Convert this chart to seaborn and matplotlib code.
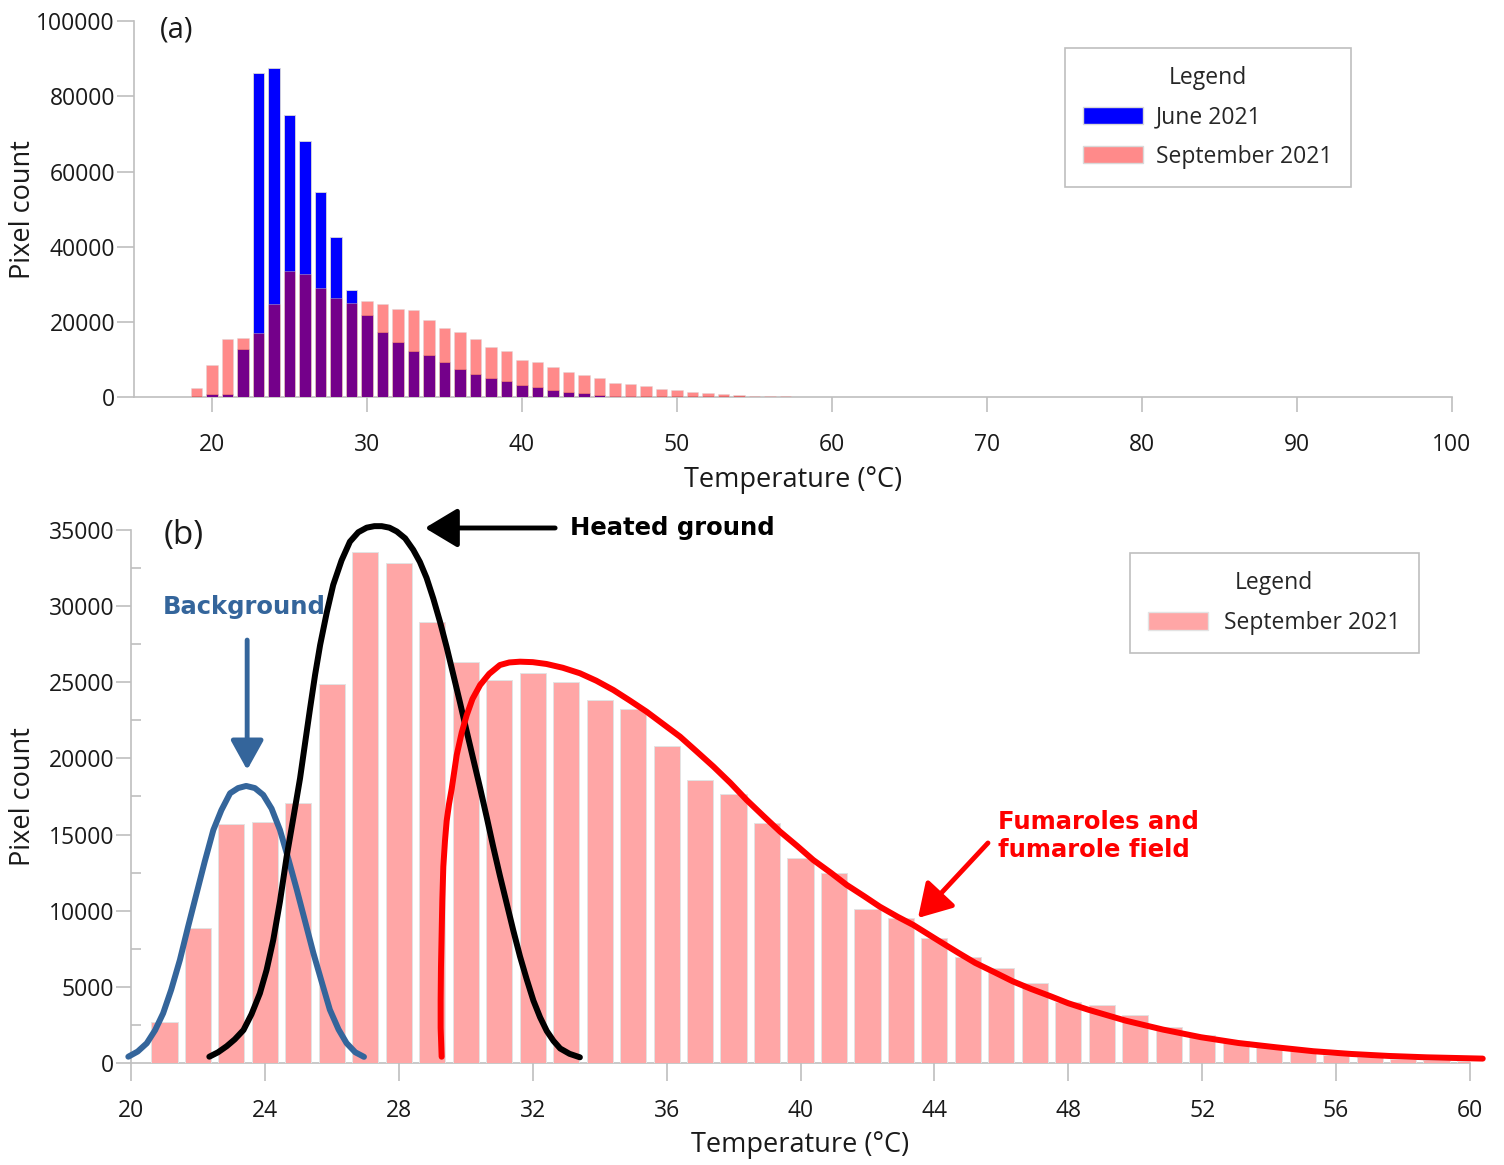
import matplotlib
matplotlib.use("Agg")
import matplotlib.pyplot as plt
import seaborn as sns
from matplotlib.patches import Patch
from matplotlib.ticker import MultipleLocator

# ---- data ----
# panel (a): histogram, one bar per degree
temp_a = list(range(19, 60))
june_a = [0, 800, 800, 13000, 86100, 87500, 75000, 68000, 54700, 42600,
          28600, 22000, 17300, 14700, 12400, 11400, 9300, 7700, 6300, 5100,
          4300, 3400, 2700, 2000, 1500, 1100, 700, 500, 350, 200,
          100, 0, 0, 0, 0, 0, 0, 0, 0, 0, 0]
sep_a = [2500, 8700, 15500, 15700, 17000, 24800, 33600, 32800, 29200, 26300,
         25100, 25500, 24900, 23600, 23200, 20700, 18500, 17500, 15500, 13300,
         12300, 9900, 9500, 8100, 6900, 6000, 5100, 3900, 3700, 3000,
         2200, 1900, 1400, 1100, 900, 600, 500, 450, 300, 200, 100]

# panel (b): September histogram with fitted components
temp_b = list(range(21, 61))
sep_b = [2700, 8850, 15700, 15800, 17070, 24880, 33520, 32820, 28970, 26310,
         25130, 25630, 25040, 23820, 23270, 20840, 18610, 17670, 15780, 13460,
         12500, 10110, 9540, 8230, 6940, 6220, 5280, 4010, 3830, 3150,
         2350, 1820, 1420, 1050, 770, 550, 370, 260, 175, 110]

# background component (blue curve)
bg_t = [19.92, 20.2, 20.47, 20.72, 20.96, 21.2, 21.46, 21.7, 21.96, 22.2,
        22.46, 22.7, 22.96, 23.2, 23.44, 23.7, 23.95, 24.2, 24.45, 24.7,
        24.95, 25.2, 25.45, 25.7, 25.94, 26.2, 26.44, 26.7, 26.96]
bg_v = [410, 750, 1290, 2150, 3260, 4800, 6760, 8900, 11140, 13200,
        15300, 16600, 17710, 18050, 18190, 18050, 17600, 16700, 15300, 13400,
        11400, 9300, 7200, 5300, 3500, 2200, 1300, 700, 400]

# heated ground component (black curve)
heat_t = [22.34, 22.6, 22.86, 23.1, 23.36, 23.6, 23.85, 24.05, 24.25, 24.45,
          24.65, 24.85, 25.05, 25.2, 25.35, 25.5, 25.65, 25.85, 26.04, 26.29,
          26.54, 26.79, 27.04, 27.27, 27.49, 27.72, 27.94, 28.19, 28.43, 28.63,
          28.83, 29.03, 29.23, 29.43, 29.63, 29.83, 30.03, 30.23, 30.43, 30.63,
          30.82, 31.02, 31.22, 31.42, 31.62, 31.82, 32.02, 32.22, 32.42, 32.62,
          32.82, 33.1, 33.41]
heat_v = [410, 700, 1100, 1550, 2160, 3200, 4570, 6100, 8080, 10600,
          13550, 16100, 18690, 21000, 23290, 25500, 27450, 29600, 31390, 33000,
          34230, 34850, 35150, 35250, 35250, 35150, 34900, 34450, 33700, 32900,
          31850, 30500, 28980, 27300, 25480, 23650, 21760, 19900, 18040, 16100,
          14200, 12300, 10500, 8700, 7000, 5500, 4100, 3000, 2100, 1450,
          950, 600, 370]

# fumarole component (red curve)
fum_t = [29.28, 29.25, 29.25, 29.26, 29.28, 29.3, 29.33, 29.38, 29.43, 29.5,
         29.58, 29.73, 29.88, 30.03, 30.2, 30.43, 30.7, 31.02, 31.3, 31.62,
         32.0, 32.41, 32.9, 33.41, 33.9, 34.41, 34.9, 35.4, 35.9, 36.4,
         36.9, 37.4, 37.9, 38.39, 38.9, 39.39, 39.9, 40.38, 40.9, 41.38,
         41.9, 42.37, 42.9, 43.37, 44.17, 44.7, 45.22, 45.8, 46.34, 46.9,
         47.47, 48.0, 48.59, 49.71, 50.83, 51.96, 53.08, 54.2, 55.32, 56.45,
         57.57, 58.7, 60.38]
fum_v = [410, 2300, 4140, 6300, 8510, 10700, 12890, 14600, 15900, 17000,
         18000, 20220, 21700, 22850, 23900, 24820, 25550, 26130, 26300, 26350,
         26320, 26200, 25950, 25590, 25100, 24490, 23800, 23070, 22250, 21430,
         20450, 19460, 18400, 17270, 16200, 15190, 14250, 13330, 12500, 11690,
         10950, 10260, 9600, 9060, 7965, 7250, 6570, 5950, 5360, 4850,
         4380, 3920, 3500, 2780, 2190, 1690, 1310, 1030, 770, 590,
         460, 370, 285]

sns.set_style("ticks")
plt.rcParams['font.family'] = ['Open Sans', 'DejaVu Sans']
FS = 16.5
LAB = 19.5
GRAY = '#BFBFBF'
TXT = '#1a1a1a'
BLUE_LINE = '#34659B'

fig = plt.figure(figsize=(15.04, 11.65), dpi=100)
ax_a = fig.add_axes([0.0894, 0.6588, 0.876, 0.3232])
ax_b = fig.add_axes([0.0871, 0.0876, 0.8903, 0.4575])

# ---- panel (a) ----
sns.barplot(x=temp_a, y=june_a, native_scale=True, color='#0000FF', saturation=1,
            width=0.72, edgecolor='#d9d9d9', linewidth=0.6, errorbar=None,
            ax=ax_a, zorder=3)
sns.barplot(x=temp_a, y=sep_a, native_scale=True, color='#FF0000', saturation=1,
            alpha=0.46, width=0.72, edgecolor='#d9d9d9', linewidth=0.6,
            errorbar=None, ax=ax_a, zorder=3)
ax_a.set_xlim(15, 100)
ax_a.set_ylim(0, 100000)
ax_a.set_xticks(range(20, 101, 10))
ax_a.set_yticks(range(0, 100001, 20000))
ax_a.tick_params(axis='x', length=11, width=1.2, color=GRAY, labelcolor=TXT,
                 labelsize=FS, pad=14.5)
ax_a.tick_params(axis='y', length=12, width=1.2, color=GRAY, labelcolor=TXT,
                 labelsize=FS, pad=2)
ax_a.set_xlabel("Temperature (°C)", fontsize=LAB, color=TXT)
ax_a.set_ylabel("Pixel count", fontsize=LAB, color=TXT)
ax_a.xaxis.set_label_coords(0.5, -0.183)
ax_a.yaxis.set_label_coords(-0.074, 0.5)
ax_a.text(0.019, 0.976, "(a)", transform=ax_a.transAxes, fontsize=21,
          color=TXT, va='center', ha='left')
handles_a = [Patch(facecolor='#0000FF', edgecolor='#d9d9d9'),
             Patch(facecolor='#FF8A8A', edgecolor='#d9d9d9')]
leg = ax_a.legend(handles_a, ["June 2021", "September 2021"], title="Legend",
                  loc='upper left', bbox_to_anchor=(0.706, 0.928),
                  borderaxespad=0, fancybox=False, edgecolor=GRAY, framealpha=1,
                  fontsize=FS, title_fontsize=FS, handlelength=2.6,
                  handleheight=0.8, borderpad=0.8, labelspacing=0.66,
                  handletextpad=0.6)
leg.get_frame().set_linewidth(1.2)

# ---- panel (b) ----
sns.barplot(x=temp_b, y=sep_b, native_scale=True, color='#FFA6A6', saturation=1,
            width=0.78, edgecolor='#e3e3e3', linewidth=0.7, errorbar=None,
            ax=ax_b, zorder=3)
for xs, ys, col in ((bg_t, bg_v, BLUE_LINE), (heat_t, heat_v, 'black'),
                    (fum_t, fum_v, '#FF0000')):
    sns.lineplot(x=xs, y=ys, color=col, lw=4.3, sort=False, estimator=None,
                 ax=ax_b, clip_on=False, zorder=5, solid_joinstyle='round',
                 solid_capstyle='round')
ax_b.set_xlim(20, 60)
ax_b.set_ylim(0, 35000)
ax_b.set_xticks(range(20, 61, 4))
ax_b.yaxis.set_major_locator(MultipleLocator(5000))
ax_b.yaxis.set_minor_locator(MultipleLocator(2500))
ax_b.tick_params(axis='x', length=13, width=1.2, color=GRAY, labelcolor=TXT,
                 labelsize=FS, pad=13)
ax_b.tick_params(axis='y', which='major', length=11, width=1.2, color=GRAY,
                 labelcolor=TXT, labelsize=FS, pad=1)
ax_b.tick_params(axis='y', which='minor', direction='in', length=7, width=1.2,
                 color=GRAY)
ax_b.set_xlabel("Temperature (°C)", fontsize=LAB, color=TXT)
ax_b.set_ylabel("Pixel count", fontsize=LAB, color=TXT)
ax_b.xaxis.set_label_coords(0.5, -0.1285)
ax_b.yaxis.set_label_coords(-0.0702, 0.5)
ax_b.text(0.024, 0.99, "(b)", transform=ax_b.transAxes, fontsize=24,
          color=TXT, va='center', ha='left')

bold = dict(family='DejaVu Sans', fontweight='bold', fontsize=17.5)
ax_b.annotate("", xy=(23.47, 19240), xytext=(23.47, 27770),
              arrowprops=dict(arrowstyle='-|>,head_length=0.45,head_width=0.25',
                              color=BLUE_LINE, lw=3.5, mutation_scale=40,
                              shrinkA=0, shrinkB=0))
ax_b.text(20.96, 29940, "Background", color=BLUE_LINE, ha='left', va='center',
          **bold)
ax_b.annotate("", xy=(28.78, 35130), xytext=(32.67, 35130),
              annotation_clip=False,
              arrowprops=dict(arrowstyle='-|>,head_length=0.5,head_width=0.3',
                              color='black', lw=3.5, mutation_scale=40,
                              shrinkA=0, shrinkB=0))
ax_b.text(33.12, 35130, "Heated ground", color='black', ha='left', va='center',
          **bold)
ax_b.annotate("", xy=(43.51, 9520), xytext=(45.6, 14445),
              arrowprops=dict(arrowstyle='-|>,head_length=0.5,head_width=0.3',
                              color='#FF0000', lw=3.5, mutation_scale=40,
                              shrinkA=0, shrinkB=0))
ax_b.text(45.9, 14900, "Fumaroles and\nfumarole field", color='#FF0000',
          ha='left', va='center', linespacing=1.2, **bold)

handles_b = [Patch(facecolor='#FFA6A6', edgecolor='#e3e3e3')]
leg_b = ax_b.legend(handles_b, ["September 2021"], title="Legend",
                    loc='upper left', bbox_to_anchor=(0.746, 0.957),
                    borderaxespad=0, fancybox=False, edgecolor=GRAY,
                    framealpha=1, fontsize=FS, title_fontsize=FS,
                    handlelength=2.6, handleheight=0.8, borderpad=0.8,
                    labelspacing=0.68, handletextpad=0.7)
leg_b.get_frame().set_linewidth(1.2)

for ax in (ax_a, ax_b):
    sns.despine(ax=ax)
    for side in ('left', 'bottom'):
        ax.spines[side].set_color(GRAY)
        ax.spines[side].set_linewidth(1.2)

fig.savefig("out.png", dpi=100)
